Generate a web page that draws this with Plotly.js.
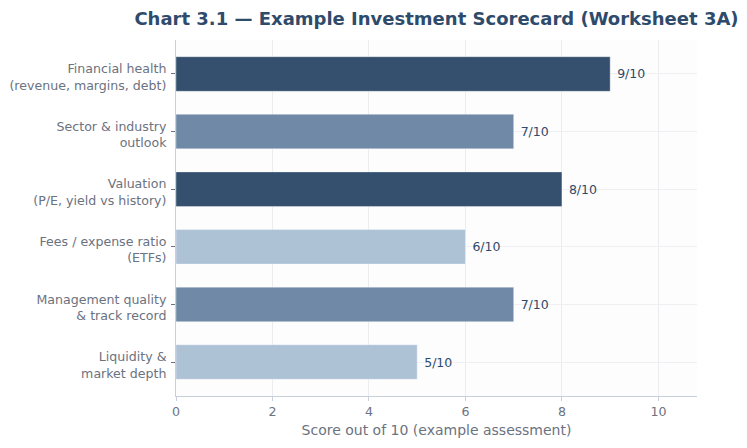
<!DOCTYPE html>
<html>
<head>
<meta charset="utf-8">
<script src="https://cdn.plot.ly/plotly-3.0.1.min.js"></script>
<style>html,body{margin:0;padding:0;background:#fff;}#chart{width:747px;height:448px;}</style>
</head>
<body>
<div id="chart"></div>
<script>
const categories = [
  "Financial health<br>(revenue, margins, debt)",
  "Sector & industry<br>outlook",
  "Valuation<br>(P/E, yield vs history)",
  "Fees / expense ratio<br>(ETFs)",
  "Management quality<br>& track record",
  "Liquidity &<br>market depth"
];
const scores = [9, 7, 8, 6, 7, 5];
const scoreLabels = ["9/10", "7/10", "8/10", "6/10", "7/10", "5/10"];
const barColors = ["#34506e", "#6f89a7", "#34506e", "#aec2d6", "#6f89a7", "#aec2d6"];
const xTicks = [0, 2, 4, 6, 8, 10];

const trace = {
  type: "bar",
  orientation: "h",
  y: categories,
  x: scores,
  text: scoreLabels,
  texttemplate: "\u00a0%{text}",
  textposition: "outside",
  cliponaxis: false,
  textfont: {family: "DejaVu Sans", size: 12.5, color: "#2f4a6a"},
  marker: {color: barColors, line: {color: "rgba(255,255,255,0.35)", width: 1}},
  hoverinfo: "none"
};

const layout = {
  width: 747,
  height: 448,
  margin: {l: 176, r: 50, t: 40, b: 52},
  paper_bgcolor: "#ffffff",
  plot_bgcolor: "#fdfdfd",
  bargap: 0.4,
  showlegend: false,
  font: {family: "DejaVu Sans", color: "#6b7280", size: 12.6},
  title: {
    text: "<b>Chart 3.1 — Example Investment Scorecard (Worksheet 3A)</b>",
    font: {family: "DejaVu Sans", size: 18, color: "#2f4b6b"},
    x: 0.5, xref: "paper", xanchor: "center",
    y: 0.959, yref: "container", yanchor: "middle"
  },
  xaxis: {
    range: [0, 10.8],
    tickvals: xTicks,
    ticktext: xTicks.map(String),
    showgrid: true,
    gridcolor: "#eaecf0",
    zeroline: false,
    showline: true,
    linecolor: "#c7d0dc",
    linewidth: 1,
    ticks: "outside",
    ticklen: 4,
    tickcolor: "#c7d0dc",
    tickfont: {size: 12.6, color: "#6b7280"},
    title: {text: "Score out of 10 (example assessment)", font: {size: 14, color: "#6b7280"}, standoff: 7}
  },
  yaxis: {
    range: [5.59, -0.59],
    showgrid: true,
    gridcolor: "#eef0f3",
    showline: true,
    linecolor: "#c7d0dc",
    linewidth: 1,
    ticks: "outside",
    ticklen: 4,
    ticklabelstandoff: 2,
    ticklabelshift: -3,
    tickcolor: "#6b7280",
    tickfont: {size: 12.6, color: "#6b7280"}
  }
};

Plotly.newPlot("chart", [trace], layout, {displayModeBar: false, staticPlot: true});
</script>
</body>
</html>
